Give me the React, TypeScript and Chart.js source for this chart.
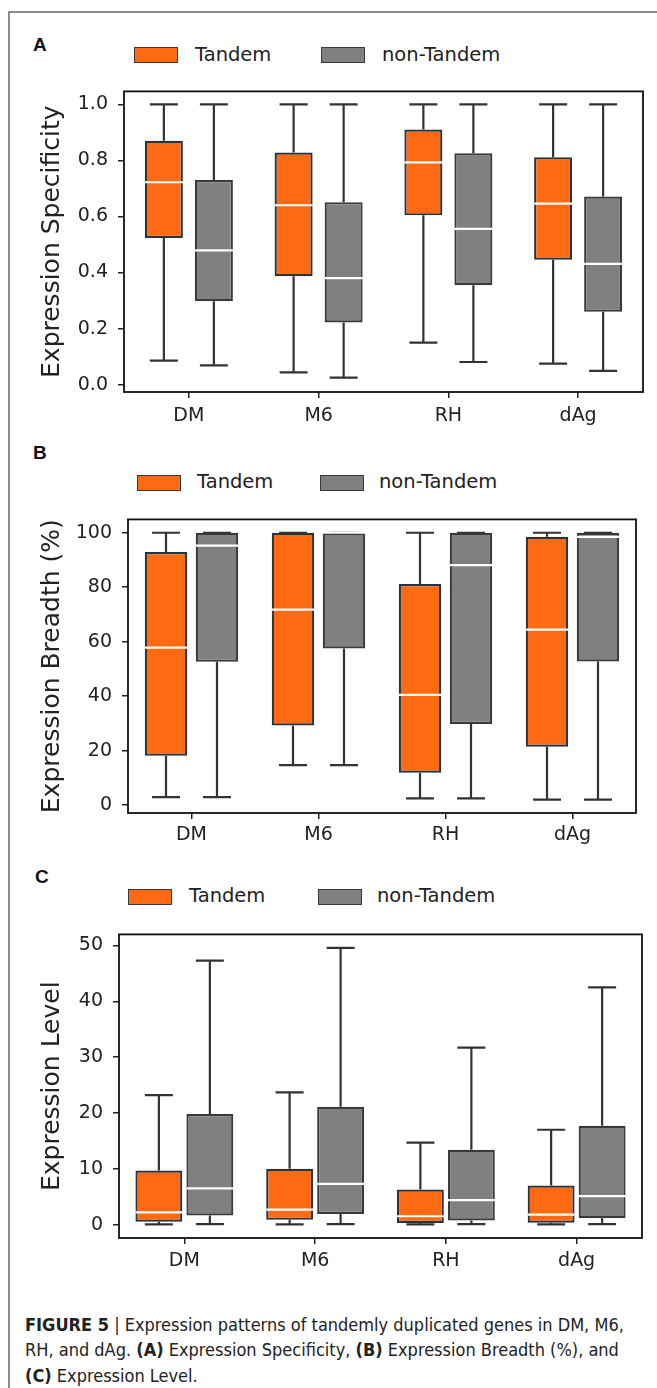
import React, { useEffect, useRef } from 'react';
import { Chart, registerables } from 'chart.js';

Chart.register(...registerables);

// ---------- data ----------
const categories = ['DM', 'M6', 'RH', 'dAg'];
const seriesNames = ['Tandem', 'non-Tandem'];

// each row: [min whisker, Q1, median, Q3, max whisker]
const specTandem = [
  [0.086, 0.523, 0.722, 0.870, 1.0],
  [0.044, 0.387, 0.640, 0.828, 1.0],
  [0.150, 0.604, 0.793, 0.910, 1.0],
  [0.075, 0.446, 0.646, 0.811, 1.0],
];
const specNonTandem = [
  [0.069, 0.298, 0.479, 0.730, 1.0],
  [0.025, 0.222, 0.380, 0.651, 1.0],
  [0.081, 0.355, 0.556, 0.825, 1.0],
  [0.049, 0.260, 0.431, 0.671, 1.0],
];
const breadthTandem = [
  [2.9, 18.1, 57.8, 92.9, 100],
  [14.7, 29.2, 71.8, 100, 100],
  [2.5, 11.9, 40.5, 81.2, 100],
  [2.0, 21.4, 64.4, 98.5, 100],
];
const breadthNonTandem = [
  [2.9, 52.6, 95.3, 100, 100],
  [14.7, 57.5, 100, 100, 100],
  [2.5, 29.8, 88.1, 100, 100],
  [2.0, 52.7, 98.5, 100, 100],
];
const levelTandem = [
  [0.05, 0.5, 2.2, 9.7, 23.2],
  [0.05, 0.85, 2.7, 10.0, 23.7],
  [0.05, 0.3, 1.5, 6.3, 14.7],
  [0.05, 0.35, 1.8, 7.0, 17.0],
];
const levelNonTandem = [
  [0.1, 1.65, 6.5, 19.8, 47.3],
  [0.1, 1.9, 7.3, 21.1, 49.6],
  [0.1, 0.75, 4.4, 13.4, 31.7],
  [0.1, 1.15, 5.1, 17.7, 42.5],
];

const specTicks = [0, 0.2, 0.4, 0.6, 0.8, 1.0];
const breadthTicks = [0, 20, 40, 60, 80, 100];
const levelTicks = [0, 10, 20, 30, 40, 50];

// ---------- styles ----------
const ORANGE = '#ff6a13';
const ORANGE_EDGE = '#25343e';
const GRAY = '#808080';
const GRAY_EDGE = '#3a3a3a';
const WHISKER = '#333333';
const INK = '#222222';
const FONT = "'DejaVu Sans', sans-serif";

const boxPlugin = {
  id: 'boxWhiskers',
  afterDatasetsDraw(chart: any) {
    const { ctx, chartArea } = chart;
    const y = chart.scales.y;
    const cap = chart.options.plugins.boxWhiskers?.capWidth ?? 28;
    chart.data.datasets.forEach((ds: any, di: number) => {
      const meta = chart.getDatasetMeta(di);
      meta.data.forEach((bar: any, i: number) => {
        const [mn, q1, md, q3, mx] = ds.stats[i];
        const x = bar.x;
        const w = bar.width;
        const pMn = y.getPixelForValue(mn);
        const pQ1 = y.getPixelForValue(q1);
        const pMd = y.getPixelForValue(md);
        const pQ3 = y.getPixelForValue(q3);
        const pMx = y.getPixelForValue(mx);
        ctx.save();
        ctx.strokeStyle = WHISKER;
        ctx.lineWidth = 2.2;
        ctx.beginPath();
        ctx.moveTo(x, pQ3);
        ctx.lineTo(x, pMx);
        ctx.moveTo(x, pQ1);
        ctx.lineTo(x, pMn);
        ctx.moveTo(x - cap / 2, pMx);
        ctx.lineTo(x + cap / 2, pMx);
        ctx.moveTo(x - cap / 2, pMn);
        ctx.lineTo(x + cap / 2, pMn);
        ctx.stroke();
        ctx.strokeStyle = '#ffffff';
        ctx.lineWidth = 2.2;
        ctx.beginPath();
        ctx.moveTo(x - w / 2, pMd);
        ctx.lineTo(x + w / 2, pMd);
        ctx.stroke();
        ctx.restore();
      });
    });
    ctx.save();
    ctx.strokeStyle = '#111111';
    ctx.lineWidth = 1.8;
    ctx.strokeRect(chartArea.left, chartArea.top, chartArea.right - chartArea.left, chartArea.bottom - chartArea.top);
    ctx.restore();
  },
};

interface PanelProps {
  tandem: number[][];
  nonTandem: number[][];
  ticks: number[];
  decimals: number;
  yMin: number;
  yMax: number;
  title: string;
  plotLeft: number;
  plotRight: number;
  plotTop: number;
  plotBottom: number;
  catPct: number;
  barPct: number;
  xPad: number;
}

const PAGE_W = 657;
const CANVAS_PAD_TOP = 8;
const X_AXIS_H = 48;

function Panel(p: PanelProps) {
  const ref = useRef<HTMLCanvasElement>(null);
  const canvasTop = p.plotTop - CANVAS_PAD_TOP;
  const canvasH = p.plotBottom - canvasTop + X_AXIS_H;
  useEffect(() => {
    if (!ref.current) return;
    const mk = (name: string, rows: number[][], bg: string, edge: string) => ({
      label: name,
      data: rows.map((r) => [r[1], r[3]]),
      stats: rows,
      backgroundColor: bg,
      borderColor: edge,
      borderWidth: 2.2,
      borderSkipped: false,
      categoryPercentage: p.catPct,
      barPercentage: p.barPct,
    });
    const chart = new Chart(ref.current, {
      type: 'bar',
      data: {
        labels: categories,
        datasets: [
          mk(seriesNames[0], p.tandem, ORANGE, ORANGE_EDGE),
          mk(seriesNames[1], p.nonTandem, GRAY, GRAY_EDGE),
        ] as any,
      },
      options: {
        animation: false,
        responsive: false,
        maintainAspectRatio: false,
        layout: { padding: { top: CANVAS_PAD_TOP, right: PAGE_W - p.plotRight, left: 0, bottom: 0 } },
        plugins: {
          legend: { display: false },
          tooltip: { enabled: false },
          boxWhiskers: { capWidth: 28 },
        } as any,
        scales: {
          x: {
            grid: { offset: false, drawOnChartArea: false, drawTicks: true, tickLength: 6, color: INK, lineWidth: 1.5 },
            border: { display: false },
            ticks: { font: { family: FONT, size: 19 }, color: INK, padding: p.xPad },
            afterFit: (s: any) => {
              s.height = X_AXIS_H;
            },
          },
          y: {
            min: p.yMin,
            max: p.yMax,
            afterBuildTicks: (s: any) => {
              s.ticks = p.ticks.map((v) => ({ value: v }));
            },
            grid: { drawOnChartArea: false, drawTicks: true, tickLength: 6, color: INK, lineWidth: 1.5 },
            border: { display: false },
            ticks: {
              font: { family: FONT, size: 19 },
              color: INK,
              padding: 10,
              callback: (v: any) => Number(v).toFixed(p.decimals),
            },
            title: {
              display: true,
              text: p.title,
              font: { family: FONT, size: 25 },
              color: INK,
              padding: { top: 37, bottom: 0 },
            },
            afterFit: (s: any) => {
              s.width = p.plotLeft;
            },
          },
        },
      } as any,
      plugins: [boxPlugin],
    });
    return () => chart.destroy();
  }, []);
  return (
    <canvas
      ref={ref}
      width={PAGE_W}
      height={canvasH}
      style={{ position: 'absolute', left: 0, top: canvasTop, width: PAGE_W, height: canvasH }}
    />
  );
}

function Legend({ top, patchLeft, textLeft, patch2Left, text2Left, letter, letterTop, letterLeft }: any) {
  const patch = (left: number, color: string) => (
    <div
      style={{
        position: 'absolute',
        left,
        top: top - 7.5,
        width: 42,
        height: 14,
        background: color,
        border: '1px solid #3a3a3a',
      }}
    />
  );
  const txt = (left: number, s: string) => (
    <div
      style={{
        position: 'absolute',
        left,
        top: top - 13,
        height: 26,
        lineHeight: '26px',
        fontFamily: FONT,
        fontSize: 19.5,
        color: INK,
        whiteSpace: 'nowrap',
      }}
    >
      {s}
    </div>
  );
  return (
    <>
      <div
        style={{
          position: 'absolute',
          left: letterLeft,
          top: letterTop - 11,
          lineHeight: '22px',
          fontFamily: "'Liberation Sans', Arial, sans-serif",
          fontWeight: 'bold',
          fontSize: 19,
          color: '#111',
        }}
      >
        {letter}
      </div>
      {patch(patchLeft, ORANGE)}
      {txt(textLeft, seriesNames[0])}
      {patch(patch2Left, GRAY)}
      {txt(text2Left, seriesNames[1])}
    </>
  );
}

export default function App() {
  const capStyle: React.CSSProperties = {
    position: 'absolute',
    left: 25,
    whiteSpace: 'nowrap',
    fontFamily: "'Liberation Sans Narrow', 'Arial Narrow', 'DejaVu Sans Condensed', sans-serif",
    fontSize: 18,
    lineHeight: '25px',
    color: '#222',
  };
  return (
    <div style={{ position: 'absolute', left: 0, top: 0, width: PAGE_W, height: 1388, background: '#fff', overflow: 'hidden' }}>
      <div style={{ position: 'absolute', left: 8, top: 11, width: PAGE_W - 8, height: 1.5, background: '#8c8c8c' }} />
      <div style={{ position: 'absolute', left: 8, top: 11, width: 1.5, height: 1388 - 11, background: '#8c8c8c' }} />

      <Legend top={54.5} patchLeft={134} textLeft={195} patch2Left={321} text2Left={382} letter="A" letterTop={45} letterLeft={33} />
      <Panel
        tandem={specTandem}
        nonTandem={specNonTandem}
        ticks={specTicks}
        decimals={1}
        yMin={-0.026}
        yMax={1.046}
        title="Expression Specificity"
        plotLeft={124}
        plotRight={643}
        plotTop={78}
        plotBottom={392}
        catPct={0.771}
        barPct={0.76}
        xPad={7}
      />

      <Legend top={482} patchLeft={137} textLeft={197} patch2Left={320} text2Left={379} letter="B" letterTop={453} letterLeft={33} />
      <Panel
        tandem={breadthTandem}
        nonTandem={breadthNonTandem}
        ticks={breadthTicks}
        decimals={0}
        yMin={-2.9}
        yMax={104.9}
        title="Expression Breadth (%)"
        plotLeft={128}
        plotRight={636}
        plotTop={506}
        plotBottom={813}
        catPct={0.803}
        barPct={0.833}
        xPad={5}
      />

      <Legend top={896} patchLeft={128} textLeft={189} patch2Left={318} text2Left={377} letter="C" letterTop={877} letterLeft={35} />
      <Panel
        tandem={levelTandem}
        nonTandem={levelNonTandem}
        ticks={levelTicks}
        decimals={0}
        yMin={-2.4}
        yMax={52}
        title="Expression Level"
        plotLeft={119}
        plotRight={642}
        plotTop={921}
        plotBottom={1238}
        catPct={0.78}
        barPct={0.92}
        xPad={6}
      />

      <div style={{ ...capStyle, top: 1324 - 12.5 }}>
        <b>FIGURE 5</b> <span style={{ fontWeight: 300 }}>|</span> Expression patterns of tandemly duplicated genes in DM, M6,
      </div>
      <div style={{ ...capStyle, top: 1349 - 12.5 }}>
        RH, and dAg. <b>(A)</b> Expression Specificity, <b>(B)</b> Expression Breadth (%), and
      </div>
      <div style={{ ...capStyle, top: 1375 - 12.5 }}>
        <b>(C)</b> Expression Level.
      </div>
    </div>
  );
}
